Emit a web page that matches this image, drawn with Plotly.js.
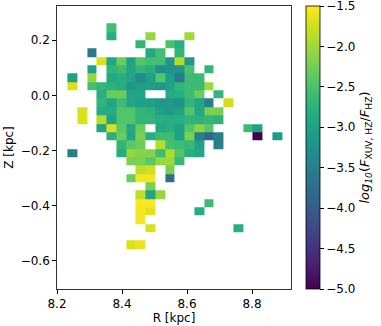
<!DOCTYPE html>
<html>
<head>
<meta charset="utf-8">
<script src="https://cdn.plot.ly/plotly-3.0.1.min.js"></script>
<style>
  html, body { margin: 0; padding: 0; background: #fff; }
  #xuv_plot { width: 381px; height: 326px; }
</style>
</head>
<body>
<div id="xuv_plot"></div>
<script>
var n = null;

// bin centres (kpc)
var rBins = [8.247, 8.277, 8.307, 8.337, 8.367, 8.397, 8.427, 8.457, 8.487, 8.517, 8.547,
             8.577, 8.607, 8.637, 8.667, 8.697, 8.727, 8.757, 8.787, 8.817, 8.847, 8.877];
var zBins = [0.246, 0.215, 0.185, 0.155, 0.124, 0.094, 0.064, 0.034, 0.003, -0.027, -0.057,
             -0.088, -0.118, -0.148, -0.179, -0.209, -0.239, -0.270, -0.300, -0.330, -0.360,
             -0.391, -0.421, -0.451, -0.482, -0.512, -0.542];

// log10(F_XUV,HZ / F_HZ), one row per zBin (top to bottom), one column per rBin
var fluxRatio = [
  [n,n,n,n,-2.55,n,n,n,n,n,n,n,n,n,n,n,n,n,n,n,n,n],
  [n,n,n,n,-2.8,n,n,n,-2.05,n,n,n,-2.0,n,n,n,n,n,n,n,n,n],
  [n,n,n,n,n,n,n,-2.7,n,n,-2.5,-2.8,n,n,n,n,n,n,n,n,n,n],
  [n,n,-3.6,n,n,n,n,n,-2.9,-2.55,n,-2.7,n,n,n,n,n,n,n,n,n,n],
  [n,n,n,-1.7,-2.95,-2.3,-3.0,-2.45,-2.55,-2.55,-3.2,-1.9,-3.15,n,n,n,n,n,n,n,n,n],
  [n,n,-3.0,n,-2.7,-2.6,-2.95,-2.7,-2.8,-3.3,-3.2,-3.2,-2.5,n,-2.7,n,n,n,n,n,n,n],
  [-3.0,n,-2.05,n,-2.9,-2.8,-2.95,-3.35,-3.05,-2.45,-3.05,-3.55,-2.6,-2.6,n,n,n,n,n,n,n,n],
  [-1.7,n,-2.55,-2.7,-2.75,-2.85,-3.15,-3.05,-3.05,-3.15,-3.0,-2.7,-2.6,-2.6,-2.0,n,n,n,n,n,n,n],
  [n,n,n,-2.8,-2.3,-2.3,-2.95,-2.95,n,n,-2.85,-2.8,-2.6,-2.3,n,-2.7,n,n,n,n,n,n],
  [n,n,n,-2.7,-2.95,-2.6,-2.95,-3.05,-3.05,-3.15,-3.15,-3.25,-2.7,-2.95,-3.5,n,-1.75,n,n,n,n,n],
  [n,-1.7,n,-2.85,-2.85,-2.45,-2.45,-2.7,-2.75,-3.05,-3.1,-3.0,-2.45,-2.9,-2.2,-2.2,n,n,n,n,n,n],
  [n,-1.7,n,-1.9,-3.0,-2.45,-2.45,-2.7,-2.7,-2.8,-2.8,-2.8,-2.7,-2.75,-2.7,-2.75,n,n,n,n,n,n],
  [n,n,n,-3.0,-1.7,-2.4,-2.9,-2.3,n,-2.9,-2.8,-3.0,-2.45,-2.1,-2.4,n,n,n,-2.6,-3.0,n,n],
  [n,n,n,n,-2.8,-2.3,-2.95,-2.2,-2.8,-2.6,-2.6,-3.0,-2.2,-3.5,-3.85,-3.5,n,n,n,-5.0,n,-3.1],
  [n,n,n,n,n,-2.7,-2.4,-2.3,n,-1.9,-2.55,-2.6,-2.65,-3.0,n,-3.5,n,n,n,n,n,n],
  [-3.55,n,n,n,n,-2.85,-2.05,-2.15,-2.15,-2.6,-1.9,-2.45,-2.8,-2.9,n,n,n,n,n,n,n,n],
  [n,n,n,n,n,n,-2.2,-2.2,-2.4,-2.05,-2.0,-2.65,n,n,n,n,n,n,n,n,n,n],
  [n,n,n,n,n,n,n,-1.85,-1.75,n,-2.2,n,n,n,n,n,n,n,n,n,n,n],
  [n,n,n,n,n,n,-2.3,-1.55,-1.55,n,-3.8,n,n,n,n,n,n,n,n,n,n,n],
  [n,n,n,n,n,n,n,n,-2.2,n,n,n,n,n,n,n,n,n,n,n,n,n],
  [n,n,n,n,n,n,n,-1.85,-2.95,-2.05,n,n,n,n,n,n,n,n,n,n,n,n],
  [n,n,n,n,n,n,n,-1.5,-1.5,n,n,n,n,n,-2.6,n,n,n,n,n,n,n],
  [n,n,n,n,n,n,n,-1.55,-1.65,n,n,n,n,-2.85,n,n,n,n,n,n,n,n],
  [n,n,n,n,n,n,n,-1.55,n,n,n,n,n,n,n,n,n,n,n,n,n,n],
  [n,n,n,n,n,n,n,n,-1.7,n,n,n,n,n,n,n,n,-2.8,n,n,n,n],
  [n,n,n,n,n,n,n,n,n,n,n,n,n,n,n,n,n,n,n,n,n,n],
  [n,n,n,n,n,n,-1.7,-1.6,n,n,n,n,n,n,n,n,n,n,n,n,n,n]
];

var cbTicks = [-5.0, -4.5, -4.0, -3.5, -3.0, -2.5, -2.0, -1.5];

var font = { family: 'DejaVu Sans, sans-serif', size: 12, color: '#000' };

var trace = {
    type: 'heatmap',
    x: rBins,
    y: zBins,
    z: fluxRatio,
    zmin: -5.0,
    zmax: -1.5,
    colorscale: 'Viridis',
    hoverongaps: false,
    colorbar: {
        x: 1.064, xanchor: 'left', xpad: 0,
        y: 0.5, yanchor: 'middle', ypad: 0,
        len: 1, lenmode: 'fraction',
        thickness: 14,
        outlinewidth: 0.8, outlinecolor: '#000',
        tickvals: cbTicks, tickformat: '.1f',
        ticks: 'outside', ticklen: 4, tickcolor: '#000',
        ticklabeloverflow: 'allow',
        tickfont: font,
        title: {
            text: '<i>log</i><sub><i>10</i></sub>(<i>F</i><sub>XUV, HZ</sub>/<i>F</i><sub>HZ</sub>)',
            side: 'right',
            font: { family: 'DejaVu Sans, sans-serif', size: 13, color: '#000' }
        }
    }
};

var axisStyle = {
    showgrid: false, zeroline: false,
    showline: true, mirror: true, linecolor: '#000', linewidth: 0.8,
    ticks: 'outside', ticklen: 4, tickcolor: '#000',
    tickfont: font
};

var layout = {
    width: 381,
    height: 326,
    margin: { l: 57, r: 90, t: 6, b: 37 },
    paper_bgcolor: '#fff',
    plot_bgcolor: '#fff',
    font: font,
    xaxis: Object.assign({}, axisStyle, {
        range: [8.2, 8.92],
        tickvals: [8.2, 8.4, 8.6, 8.8], tickformat: '.1f',
        title: { text: 'R [kpc]', font: font, standoff: 2 }
    }),
    yaxis: Object.assign({}, axisStyle, {
        range: [-0.702, 0.324],
        tickvals: [-0.6, -0.4, -0.2, 0.0, 0.2], tickformat: '.1f',
        title: { text: 'Z [kpc]', font: font, standoff: 4 }
    })
};

Plotly.newPlot('xuv_plot', [trace], layout, { displayModeBar: false, staticPlot: true });
</script>
</body>
</html>
